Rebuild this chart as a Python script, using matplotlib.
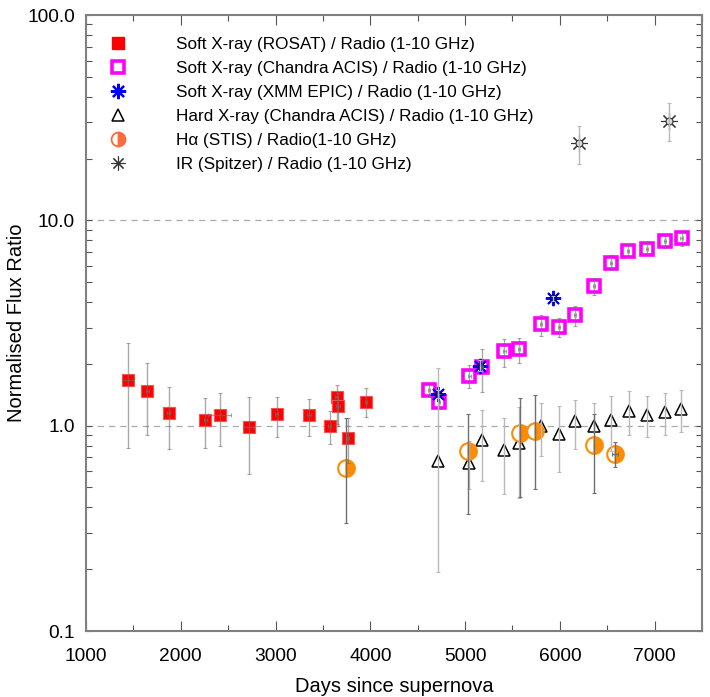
import numpy as np
import matplotlib
matplotlib.use('Agg')
import matplotlib.pyplot as plt
from matplotlib.lines import Line2D
from matplotlib.ticker import FixedLocator, LogLocator, NullFormatter

plt.rcParams['font.family'] = ['Liberation Sans', 'DejaVu Sans']

# Soft X-ray (ROSAT) / Radio
rosat_day = [1444, 1648, 1873, 2260, 2412, 2718, 3014, 3352, 3570, 3644, 3655, 3764, 3954]
rosat_val = [1.66, 1.47, 1.15, 1.07, 1.13, 0.98, 1.14, 1.13, 1.00, 1.38, 1.24, 0.87, 1.31]
rosat_lo = [0.78, 0.90, 0.77, 0.78, 0.80, 0.58, 0.88, 0.89, 0.81, 1.02, 1.00, 0.66, 1.10]
rosat_hi = [2.54, 2.02, 1.55, 1.37, 1.45, 1.38, 1.38, 1.35, 1.18, 1.58, 1.45, 1.09, 1.52]
rosat_dx = [60, 20, 15, 20, 120, 60, 15, 20, 15, 15, 20, 15, 10]

# Soft X-ray (Chandra ACIS) / Radio
acis_day = [4616, 4722, 5046, 5180, 5415, 5566, 5798, 5988, 6162, 6363, 6541, 6721, 6922, 7106, 7285]
acis_val = [1.49, 1.31, 1.75, 1.92, 2.30, 2.35, 3.11, 3.03, 3.45, 4.80, 6.23, 7.11, 7.24, 7.92, 8.19]
acis_lo = [1.39, 1.20, 1.53, 1.46, 1.93, 2.03, 2.74, 2.69, 3.06, 4.34, 5.70, 6.63, 6.75, 7.35, 7.52]
acis_hi = [1.61, 1.42, 1.98, 2.37, 2.64, 2.68, 3.46, 3.36, 3.82, 5.25, 6.75, 7.70, 7.80, 8.50, 8.77]

# Soft X-ray (XMM EPIC) / Radio
xmm_day = [4714, 5162, 5926]
xmm_val = [1.43, 1.96, 4.17]
xmm_lo = [1.36, 1.85, 4.05]
xmm_hi = [1.50, 2.09, 4.30]

# Hard X-ray (Chandra ACIS) / Radio
hard_day = [4718, 5046, 5183, 5415, 5566, 5796, 5989, 6165, 6363, 6541, 6728, 6922, 7106, 7282]
hard_val = [0.675, 0.66, 0.855, 0.765, 0.82, 1.00, 0.91, 1.05, 1.00, 1.06, 1.18, 1.13, 1.17, 1.21]
hard_lo = [0.193, 0.49, 0.535, 0.464, 0.444, 0.71, 0.598, 0.77, 0.75, 0.75, 0.90, 0.877, 0.90, 0.935]
hard_hi = [1.91, 0.845, 1.19, 1.09, 1.23, 1.29, 1.24, 1.33, 1.29, 1.39, 1.47, 1.40, 1.44, 1.49]

# H-alpha (STIS) / Radio
ha_day = [3746, 5030, 5577, 5736, 6363, 6583]
ha_val = [0.62, 0.755, 0.917, 0.938, 0.805, 0.728]
ha_lo = [0.336, 0.371, 0.45, 0.489, 0.47, 0.628]
ha_hi = [1.09, 1.14, 1.36, 1.41, 1.14, 0.835]
ha_dx = [0, 0, 0, 0, 0, 35]

# IR (Spitzer) / Radio
ir_day = [6200, 7148]
ir_val = [23.9, 30.6]
ir_lo = [18.9, 24.3]
ir_hi = [28.7, 37.1]

labels = ['Soft X-ray (ROSAT) / Radio (1-10 GHz)',
          'Soft X-ray (Chandra ACIS) / Radio (1-10 GHz)',
          'Soft X-ray (XMM EPIC) / Radio (1-10 GHz)',
          'Hard X-ray (Chandra ACIS) / Radio (1-10 GHz)',
          'H\u03b1 (STIS) / Radio(1-10 GHz)',
          'IR (Spitzer) / Radio (1-10 GHz)']


def yerr(val, lo, hi):
    val = np.array(val)
    return [val - np.array(lo), np.array(hi) - val]


fig = plt.figure(figsize=(7.10, 6.97), dpi=100)
ax = fig.add_axes([86 / 710, 66 / 697, 616 / 710, 616 / 697])

ax.axhline(1.0, color='#aaaaaa', ls=(0, (5, 4)), lw=0.9, zorder=1)
ax.axhline(10.0, color='#aaaaaa', ls=(0, (5, 4)), lw=0.9, zorder=1)

ebkw = dict(fmt='none', lw=1.0, capsize=1.5, capthick=0.8, zorder=5)
light = '#b8b8b8'
dark = '#707070'

# markers
ax.plot(rosat_day, rosat_val, 's', ms=9, color='red', mec='#ff5050', mew=0.8, zorder=3)
ax.plot(acis_day, acis_val, 's', ms=8, mfc='white', mec='magenta', mew=2.6, zorder=3)
ax.plot(hard_day, hard_val, '^', ms=8.5, mfc='white', mec='black', mew=1.1, zorder=3)
ax.plot(ha_day, ha_val, 'o', ms=12, mfc='darkorange', mec='darkorange', mew=1.5,
        fillstyle='right', markerfacecoloralt='white', zorder=4)
ax.plot(xmm_day, xmm_val, marker=(8, 2, 0), ls='none', ms=11, color='blue', mew=1.4, zorder=4)
ax.plot(xmm_day, xmm_val, 'D', ms=4, color='#000080', zorder=4)
ax.plot(ir_day, ir_val, marker=(8, 2, 0), ls='none', ms=12, color='#333333', mew=0.8, zorder=3)
ax.plot(ir_day, ir_val, 'o', ms=5, mfc='#dddddd', mec='#333333', mew=0.8, zorder=4)

# error bars on top of markers
ax.errorbar(rosat_day, rosat_val, yerr=yerr(rosat_val, rosat_lo, rosat_hi), xerr=rosat_dx,
            ecolor=dark, alpha=0.6, **ebkw)
ax.errorbar(acis_day, acis_val, yerr=yerr(acis_val, acis_lo, acis_hi), xerr=12,
            ecolor=dark, alpha=0.6, **ebkw)
ax.errorbar(xmm_day, xmm_val, yerr=yerr(xmm_val, xmm_lo, xmm_hi), ecolor=light, **ebkw)
ax.errorbar(hard_day, hard_val, yerr=yerr(hard_val, hard_lo, hard_hi), ecolor=light, **ebkw)
ax.errorbar(ha_day, ha_val, yerr=yerr(ha_val, ha_lo, ha_hi), xerr=ha_dx, ecolor=dark, **ebkw)
ax.errorbar(ir_day, ir_val, yerr=yerr(ir_val, ir_lo, ir_hi), ecolor=light, **ebkw)

ax.set_yscale('log')
ax.set_xlim(1000, 7500)
ax.set_ylim(0.1, 100)

ax.xaxis.set_major_locator(FixedLocator([1000, 2000, 3000, 4000, 5000, 6000, 7000]))
ax.xaxis.set_minor_locator(FixedLocator([1500, 2500, 3500, 4500, 5500, 6500, 7500]))
ax.yaxis.set_major_locator(FixedLocator([0.1, 1, 10, 100]))
ax.yaxis.set_minor_locator(LogLocator(base=10, subs=np.arange(2, 10)))
ax.yaxis.set_minor_formatter(NullFormatter())
ax.set_yticklabels(['0.1', '1.0', '10.0', '100.0'])

ax.tick_params(which='both', direction='in', top=True, right=True, color='#555555',
               labelsize=13.8, width=0.8)
ax.tick_params(which='major', length=7)
ax.tick_params(which='minor', length=4)
ax.tick_params(axis='y', which='major', length=4, pad=8)
ax.tick_params(axis='x', pad=12)
for s in ax.spines.values():
    s.set_color('#808080')
    s.set_linewidth(1.5)

ax.set_xlabel('Days since supernova', fontsize=14.5, labelpad=9)
ax.set_ylabel('Normalised Flux Ratio', fontsize=14.5)
ax.yaxis.set_label_coords(-0.098, 0.5)

handles = [
    Line2D([], [], ls='none', marker='s', ms=9, color='red'),
    Line2D([], [], ls='none', marker='s', ms=8, mfc='white', mec='magenta', mew=2.6),
    Line2D([], [], ls='none', marker=(8, 2, 0), ms=11, color='blue', mew=1.6),
    Line2D([], [], ls='none', marker='^', ms=8.5, mfc='white', mec='black', mew=1.1),
    Line2D([], [], ls='none', marker='o', ms=10, mfc='#ff6a3d', mec='#ff6a3d', mew=1.3,
           fillstyle='right', markerfacecoloralt='white'),
    Line2D([], [], ls='none', marker=(8, 2, 0), ms=10, color='#333333', mew=0.8),
]
ax.legend(handles, labels, loc='upper left', bbox_to_anchor=(0.013, 0.975), frameon=False,
          fontsize=12.3, handlelength=2.0, handletextpad=2.4, labelspacing=0.52,
          borderaxespad=0)

fig.savefig('out.png', dpi=100)
